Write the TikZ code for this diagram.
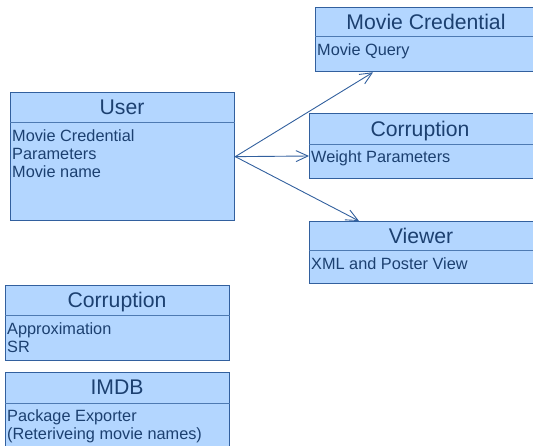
\documentclass[tikz,border=0pt]{standalone}
\usepackage{fontspec}
\setmainfont{Liberation Sans}
\usetikzlibrary{arrows.meta,calc}
\definecolor{boxfill}{RGB}{179,214,255}
\definecolor{boxline}{RGB}{50,96,158}
\definecolor{divline}{RGB}{78,122,178}
\definecolor{txt}{RGB}{28,64,112}
\begin{document}
\begin{tikzpicture}[x=1pt,y=-1pt,
  classbox/.style={draw=boxline, fill=boxfill, line width=1.3pt, rectangle, inner sep=0pt, anchor=north west},
  boxtitle/.style={font=\fontsize{21.2}{24}\selectfont, text=txt, anchor=base, inner sep=0pt},
  boxbody/.style={font=\fontsize{16.3}{18.3}\selectfont, text=txt, anchor=north west, inner sep=0pt, align=left},
  divider/.style={draw=divline, line width=1pt},
  link/.style={draw=boxline, line width=0.9pt, -{Straight Barb[length=12pt,width=11pt,line width=0.9pt]}}]
\useasboundingbox (0,0) rectangle (533,446);
\clip (0,0) rectangle (533,446);

% User
\node[classbox, minimum width=224pt, minimum height=128pt] (user) at (10,92) {};
\draw[divider] ([yshift=-31pt]user.north west) -- ([yshift=-31pt]user.north east);
\node[boxtitle] (usert) at (122,115) {User};
\node[boxbody] (userb) at (12,128.2) {\strut Movie Credential\\Parameters\\Movie name};

% Movie Credential
\node[classbox, minimum width=225pt, minimum height=64pt] (mc) at (315,7) {};
\draw[divider] ([yshift=-30pt]mc.north west) -- ([yshift=-30pt]mc.north east);
\node[boxtitle] (mct) at (426,29.5) {Movie Credential};
\node[boxbody] (mcb) at (317,42.2) {\strut Movie Query};

% Corruption (right)
\node[classbox, minimum width=227pt, minimum height=65pt] (corr) at (309,113) {};
\draw[divider] ([yshift=-32pt]corr.north west) -- ([yshift=-32pt]corr.north east);
\node[boxtitle] (corrt) at (420,136.5) {Corruption};
\node[boxbody] (corrb) at (311,149.5) {\strut Weight Parameters};

% Viewer
\node[classbox, minimum width=227pt, minimum height=62pt] (viewer) at (309,221) {};
\draw[divider] ([yshift=-30pt]viewer.north west) -- ([yshift=-30pt]viewer.north east);
\node[boxtitle] (viewert) at (421,243.5) {Viewer};
\node[boxbody] (viewerb) at (311,256.2) {\strut XML and Poster View};

% Corruption (left)
\node[classbox, minimum width=224pt, minimum height=75pt] (corrl) at (5,285) {};
\draw[divider] ([yshift=-31pt]corrl.north west) -- ([yshift=-31pt]corrl.north east);
\node[boxtitle] (corrlt) at (117,308) {Corruption};
\node[boxbody] (corrlb) at (7,321.2) {\strut Approximation\\SR};

% IMDB
\node[classbox, minimum width=224pt, minimum height=90pt] (imdb) at (5,372) {};
\draw[divider] ([yshift=-31pt]imdb.north west) -- ([yshift=-31pt]imdb.north east);
\node[boxtitle] (imdbt) at (117,395) {IMDB};
\node[boxbody] (imdbb) at (7,408.2) {\strut Package Exporter\\(Reteriveing movie names)};

% connectors
\coordinate (src) at (user.east);
\draw[link] (src) -- ($(mc.south west)+(58,0)$);
\draw[link] (src) -- ($(corr.north west)+(0,43)$);
\draw[link] (src) -- ($(viewer.north west)+(50,0)$);
\end{tikzpicture}
\end{document}
